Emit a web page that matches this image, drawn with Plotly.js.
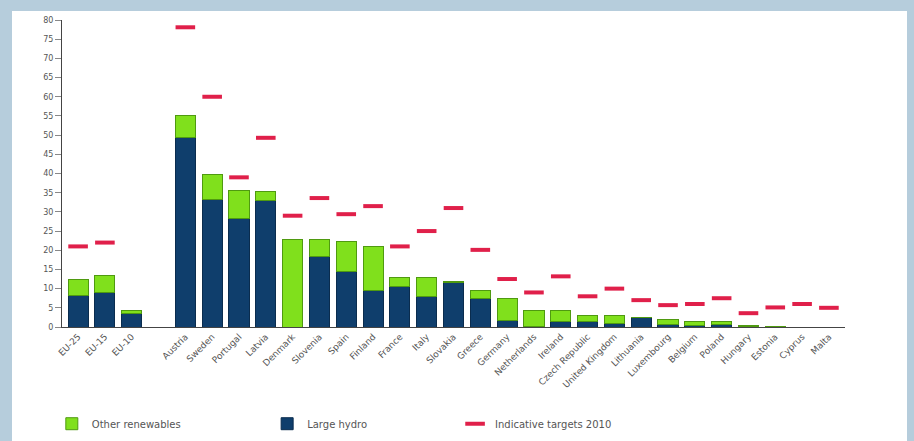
<!DOCTYPE html>
<html>
<head>
<meta charset="utf-8">
<script src="https://cdn.plot.ly/plotly-3.0.1.min.js"></script>
<style>
  html, body { margin: 0; padding: 0; background: #b6cddc; width: 914px; height: 441px; overflow: hidden; }
  #chart { position: absolute; left: 12px; top: 11px; width: 895px; height: 430px; background: #ffffff; }
</style>
</head>
<body>
<div id="chart"></div>
<script>
const categories = ["EU-25", "EU-15", "EU-10", " ", "Austria", "Sweden", "Portugal", "Latvia", "Denmark",
  "Slovenia", "Spain", "Finland", "France", "Italy", "Slovakia", "Greece", "Germany", "Netherlands",
  "Ireland", "Czech Republic", "United Kingdom", "Lithuania", "Luxembourg", "Belgium", "Poland",
  "Hungary", "Estonia", "Cyprus", "Malta"];

const largeHydro = [8.1, 8.9, 3.4, null, 49.5, 33.3, 28.4, 32.9, 0, 18.5, 14.4, 9.6, 10.5, 7.9, 11.6,
  7.5, 1.8, 0.1, 1.5, 1.5, 0.9, 2.4, 0.7, 0.3, 0.6, 0.1, 0, 0, 0];

const otherRenewables = [4.4, 4.4, 0.8, null, 5.7, 6.5, 7.3, 2.3, 22.7, 4.2, 7.8, 11.5, 2.3, 4.9, 0.2,
  1.9, 5.7, 4.3, 2.9, 1.6, 2.2, 0.2, 1.3, 1.1, 0.8, 0.4, 0.1, 0, 0];

const targets2010 = [21, 22, null, null, 78.1, 60, 39, 49.3, 29, 33.6, 29.4, 31.5, 21, 25, 31, 20.1,
  12.5, 9, 13.2, 8, 10, 7, 5.7, 6, 7.5, 3.6, 5.1, 6, 5];

const yTicks = [0, 5, 10, 15, 20, 25, 30, 35, 40, 45, 50, 55, 60, 65, 70, 75, 80];

const traces = [
  {
    type: "bar", name: "Large hydro", x: categories, y: largeHydro, legend: "legend2",
    marker: { color: "#0f3e6c", line: { color: "#0a2c4e", width: 1 } },
    hoverinfo: "x+y"
  },
  {
    type: "bar", name: "Other renewables", x: categories, y: otherRenewables, legend: "legend",
    marker: { color: "#80e01c", line: { color: "#4f9a10", width: 1 } },
    hoverinfo: "x+y"
  },
  {
    type: "scatter", mode: "markers", name: "Indicative targets 2010", x: categories, y: targets2010,
    legend: "legend3",
    marker: { symbol: "line-ew-open", size: 14, color: "#e0204a", line: { color: "#e0204a", width: 4 } },
    hoverinfo: "x+y"
  }
];

function legendAt(x) {
  return {
    orientation: "h", x: x, xanchor: "left", y: -0.315, yanchor: "middle",
    font: { size: 10, color: "#555555" }, itemwidth: 30,
    bgcolor: "rgba(0,0,0,0)"
  };
}

const layout = {
  width: 895, height: 430,
  margin: { l: 50, r: 62, t: 9, b: 114, autoexpand: false },
  paper_bgcolor: "#ffffff", plot_bgcolor: "#ffffff",
  barmode: "stack", bargap: 0.25,
  font: { family: "DejaVu Sans, sans-serif", color: "#555555" },
  showlegend: true,
  legend: legendAt(-0.013),
  legend2: legendAt(0.262),
  legend3: legendAt(0.502),
  xaxis: {
    type: "category", range: [-0.6, 28.6], tickangle: -45,
    tickfont: { size: 9, color: "#555555" },
    showline: true, linecolor: "#444444", linewidth: 1,
    showgrid: false, ticks: "", zeroline: false, fixedrange: true
  },
  yaxis: {
    range: [0, 80], tickvals: yTicks, ticktext: yTicks.map(String),
    tickfont: { size: 8, color: "#555555" },
    showline: true, linecolor: "#444444", linewidth: 1,
    ticks: "outside", ticklen: 6, tickcolor: "#888888",
    showgrid: false, zeroline: false, fixedrange: true
  }
};

Plotly.newPlot("chart", traces, layout, { displayModeBar: false, staticPlot: true });
</script>
</body>
</html>
